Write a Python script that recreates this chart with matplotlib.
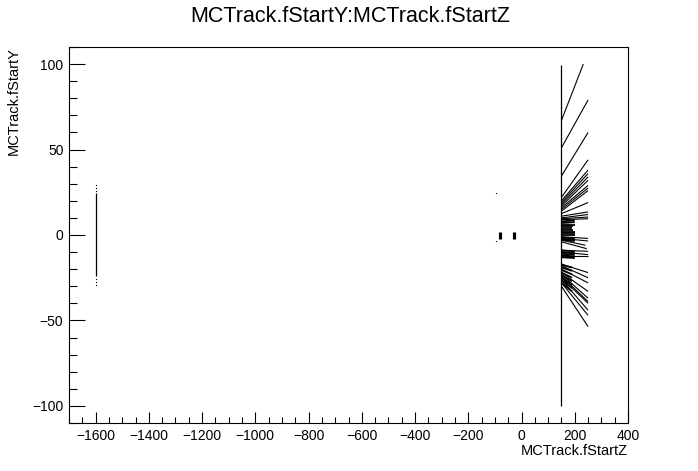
import numpy as np
import matplotlib
matplotlib.use("Agg")
import matplotlib.pyplot as plt
from matplotlib.ticker import MultipleLocator

plt.rcParams['font.family'] = ['Liberation Sans', 'DejaVu Sans']

# ---- data ----
title = "MCTrack.fStartY:MCTrack.fStartZ"
xlabel = "MCTrack.fStartZ"
ylabel = "MCTrack.fStartY"
xticks = [-1600, -1400, -1200, -1000, -800, -600, -400, -200, 0, 200, 400]
yticks = [-100, -50, 0, 50, 100]

# long tracks fanning out from the z=150 plane: start y, end z, end y
ray_z0 = 150
ray_y0 = [67, 51, 34.5, 22, 20, 19, 18, 17, 16, 15, 14, 12.5, 11, 10, 9.5, 9,
          -1, -2, -3, -4, -9, -10, -12,
          -17, -18, -20, -22, -23, -24, -25, -26, -28, -30]
ray_z1 = [232, 250, 250, 250, 250, 250, 250, 250, 250, 250, 250, 250, 250, 250, 250, 250,
          250, 250, 240, 245, 250, 250, 250,
          250, 250, 250, 250, 250, 250, 250, 250, 250, 250]
ray_y1 = [100, 79, 60, 44, 38, 36, 34, 32, 29, 27.5, 26, 19, 13.5, 12, 10.5, 9.5,
          -2, -3.5, -6, -8, -9.5, -11.5, -12,
          -22, -25, -28, -33, -37, -39, -40, -44, -47, -53.6]

# short, nearly flat tracks forming the dense blocks next to z=150
short_y = [8, 7, 6, 5, 4, 3, 2, 1, 0, -1.5, -2.5, -3,
           -9, -10, -11, -12, -13,
           -17.5, -19, -20.5, -22, -23.5, -25, -26.5, -28]
short_z1 = [200, 200, 200, 195, 190, 195, 200, 200, 200, 200, 200, 200,
            200, 200, 200, 200, 200,
            190, 190, 190, 190, 190, 190, 190, 190]
short_y1 = [8.5, 7.5, 6, 5, 4, 3, 2, 1, 0, -2, -3, -3.5,
            -9.5, -10.5, -11.5, -12.5, -13.5,
            -19, -21, -23, -25, -27, -29, -31, -33]

# vertical point columns: z, y-min, y-max
col_z = [150, -1600, -80, -27]
col_ymin = [-100, -24, -2.3, -2.3]
col_ymax = [99.5, 24.4, 1.7, 1.7]
col_lw = [0.9, 0.9, 2.3, 2.3]

# isolated points
pt_z = [-1600, -1600, -1600, -1600, -1600, -1600, -95, -95, 150, 150]
pt_y = [29, 27.5, 26, -26, -27.5, -29.4, 24.4, -3.7, -60, -75]

# ---- figure ----
W, H = 698, 471
fig = plt.figure(figsize=(W / 100, H / 100), dpi=100)
ax = fig.add_axes([69 / W, 1 - 423 / H, (628 - 69) / W, (423 - 47) / H])

for y0, z1, y1 in zip(ray_y0, ray_z1, ray_y1):
    ax.plot([ray_z0, z1], [y0, y1], color='black', lw=0.8, solid_capstyle='butt')
for y0, z1, y1 in zip(short_y, short_z1, short_y1):
    ax.plot([ray_z0, z1], [y0, y1], color='black', lw=1.3, solid_capstyle='butt')
for z, a, b, lw in zip(col_z, col_ymin, col_ymax, col_lw):
    ax.plot([z, z], [a, b], color='black', lw=lw, solid_capstyle='butt')
ax.plot(pt_z, pt_y, linestyle='none', marker='s', markersize=0.8,
        markeredgewidth=0, color='black')

ax.set_xlim(-1700, 400)
ax.set_ylim(-110, 110)
ax.set_xticks(xticks)
ax.set_yticks(yticks)
ax.xaxis.set_minor_locator(MultipleLocator(50))
ax.yaxis.set_minor_locator(MultipleLocator(10))

ax.tick_params(axis='both', which='both', direction='in', top=False, right=False,
               labelsize=10, width=0.8)
ax.tick_params(axis='x', which='major', length=8, pad=4)
ax.tick_params(axis='x', which='minor', length=4)
ax.tick_params(axis='y', which='major', length=11.5, pad=4)
ax.tick_params(axis='y', which='minor', length=6)
for s in ax.spines.values():
    s.set_linewidth(0.8)

fig.text(0.5 * (69 + 628) / W + 0.003, 1 - 17 / H, title, ha='center', va='center', fontsize=15.5)
fig.text(628 / W, 1 - 451 / H, xlabel, ha='right', va='center', fontsize=10.5)
fig.text(14 / W, 1 - 47 / H, ylabel, ha='center', va='top', rotation=90, fontsize=10.5)

fig.savefig("out.png", dpi=100)
